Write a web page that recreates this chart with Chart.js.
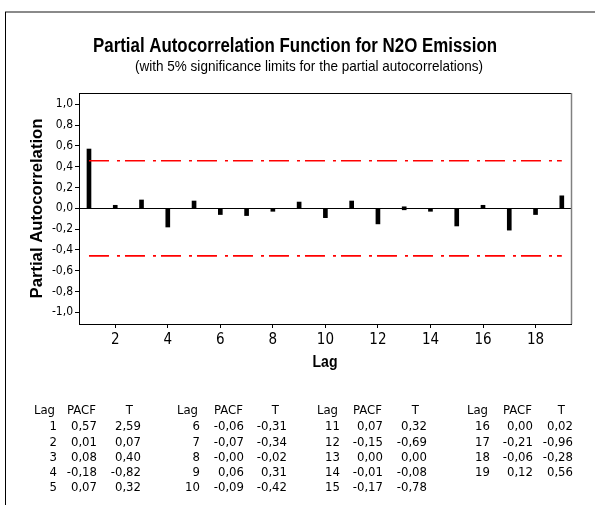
<!DOCTYPE html>
<html><head><meta charset="utf-8">
<script src="https://cdn.jsdelivr.net/npm/chart.js@4.4.1/dist/chart.umd.min.js"></script>
<style>
html,body{margin:0;padding:0;background:#fff;}
canvas{display:block;}
</style></head><body>
<canvas id="c" width="595" height="505"></canvas>
<script>
// ---- data ----
const lags   = [1,2,3,4,5,6,7,8,9,10,11,12,13,14,15,16,17,18,19];
const pacf   = [0.57,0.01,0.08,-0.18,0.07,-0.06,-0.07,-0.004,0.06,-0.09,0.07,-0.15,0.00,-0.01,-0.17,0.004,-0.21,-0.06,0.12];
const tStats = [2.59,0.07,0.40,-0.82,0.32,-0.31,-0.34,-0.02,0.31,-0.42,0.32,-0.69,0.00,-0.08,-0.78,0.02,-0.96,-0.28,0.56];
const yTicks = [-1.0,-0.8,-0.6,-0.4,-0.2,0.0,0.2,0.4,0.6,0.8,1.0];
const xTicks = [2,4,6,8,10,12,14,16,18];
const sigLimit = 0.458;
const titleText = "Partial Autocorrelation Function for N2O Emission";
const subtitleText = "(with 5% significance limits for the partial autocorrelations)";
const yTitle = "Partial Autocorrelation";
const xTitle = "Lag";
const tableHeaders = ["Lag","PACF","T"];

function hasFont(name){
  const c=document.createElement('canvas').getContext('2d');
  const s='abcdefghijklmnopqrstuvwxyz ABCDEFGHIJ 0123456789';
  let diff=false;
  for(const base of ['monospace','serif']){
    c.font='40px '+base; const w1=c.measureText(s).width;
    c.font="40px '"+name+"', "+base; const w2=c.measureText(s).width;
    if(Math.abs(w1-w2)>0.5) diff=true;
  }
  return diff;
}
const COND = hasFont('DejaVu Sans Condensed') ? "'DejaVu Sans Condensed'" : "'Liberation Sans'";
const TABLEF = hasFont('DejaVu Sans Condensed') ? "'DejaVu Sans Condensed'" : "'DejaVu Sans'";
const fmt = (v,d)=> v.toFixed(d).replace('.',',');

// draw text squeezed horizontally to a target width (mimics the narrow original face)
function fitText(ctx, text, cx, cy, font, targetW){
  ctx.save();
  ctx.font=font;
  const w=ctx.measureText(text).width;
  const k=targetW/w;
  ctx.translate(cx,cy); ctx.scale(k,1);
  ctx.textAlign='center'; ctx.textBaseline='middle';
  ctx.fillText(text,0,0);
  ctx.restore();
}

const decor = {
  id:'decor',
  afterDraw(chart){
    const ctx=chart.ctx, a=chart.chartArea;
    ctx.save();
    // outer frame
    ctx.strokeStyle='#8a8a8a'; ctx.lineWidth=2;
    ctx.beginPath(); ctx.moveTo(5,12); ctx.lineTo(595,12); ctx.stroke();
    ctx.strokeStyle='#000'; ctx.lineWidth=1;
    ctx.beginPath(); ctx.moveTo(5.5,12); ctx.lineTo(5.5,505); ctx.stroke();
    // plot frame top & right
    ctx.beginPath(); ctx.moveTo(a.left,a.top+0.5); ctx.lineTo(a.right,a.top+0.5); ctx.stroke();
    ctx.strokeStyle='#808080'; ctx.lineWidth=1.5;
    ctx.beginPath(); ctx.moveTo(a.right+0.5,a.top); ctx.lineTo(a.right+0.5,a.bottom); ctx.stroke();
    // titles
    ctx.fillStyle='#000';
    fitText(ctx, titleText, 295, 46, "bold 20px 'Liberation Sans'", 404);
    fitText(ctx, subtitleText, 309, 67, "15px 'Liberation Sans'", 348);
    fitText(ctx, xTitle, (a.left+a.right)/2, 363, "bold 16px 'Liberation Sans'", 25);
    ctx.save(); ctx.translate(38, (a.top+a.bottom)/2); ctx.rotate(-Math.PI/2);
    ctx.font="bold 16px 'Liberation Sans'"; ctx.textAlign='center'; ctx.textBaseline='middle';
    const yw=ctx.measureText(yTitle).width; ctx.scale(180/yw,1);
    ctx.fillText(yTitle,0,0); ctx.restore();
    // table
    ctx.font='13px '+TABLEF; ctx.textBaseline='middle'; ctx.textAlign='right';
    const blocks=[{s:0,e:5,c:[57,97,141]},{s:5,e:10,c:[200,244,287]},{s:10,e:15,c:[340,383,427]},{s:15,e:19,c:[490,533,573]}];
    const headY=411, row0=427, rowH=15.2;
    blocks.forEach(b=>{
      ctx.fillText(tableHeaders[0], b.c[0]-2, headY);
      ctx.fillText(tableHeaders[1], b.c[1]-1, headY);
      ctx.fillText(tableHeaders[2], b.c[2]-8, headY);
      for(let i=b.s;i<b.e;i++){
        const y=row0+(i-b.s)*rowH;
        ctx.fillText(String(lags[i]), b.c[0], y);
        ctx.fillText(fmt(pacf[i],2), b.c[1], y);
        ctx.fillText(fmt(tStats[i],2), b.c[2], y);
      }
    });
    ctx.restore();
  }
};

new Chart(document.getElementById('c'), {
  type:'bar',
  data:{datasets:[
    {type:'bar', data:lags.map((l,i)=>({x:l,y:pacf[i]})), backgroundColor:'#000', borderWidth:0, barThickness:4, minBarLength:3, order:2},
    {type:'line', data:[{x:lags[0],y:sigLimit},{x:lags[lags.length-1],y:sigLimit}], borderColor:'#ff0000', borderWidth:1.6, borderDash:[20,8,3,5], pointRadius:0, fill:false, order:1},
    {type:'line', data:[{x:lags[0],y:-sigLimit},{x:lags[lags.length-1],y:-sigLimit}], borderColor:'#ff0000', borderWidth:1.6, borderDash:[20,8,3,5], pointRadius:0, fill:false, order:1}
  ]},
  options:{
    responsive:false, animation:false, devicePixelRatio:1,
    layout:{padding:{left:0,top:93,right:24,bottom:151}},
    plugins:{legend:{display:false}, tooltip:{enabled:false}, title:{display:false}},
    scales:{
      x:{type:'linear', min:0.62, max:19.35, offset:false,
        afterBuildTicks:s=>{s.ticks=xTicks.map(v=>({value:v}));},
        afterFit:s=>{s.height=30;},
        grid:{offset:false, drawOnChartArea:false, drawTicks:true, tickLength:4, color:'#000', tickColor:'#000'},
        border:{display:true, color:'#000', width:1},
        ticks:{color:'#000', font:{family:COND, size:15}, padding:3, maxRotation:0, minRotation:0, autoSkip:false, callback:v=>String(v)}},
      y:{min:-1.113, max:1.109,
        afterBuildTicks:s=>{s.ticks=yTicks.map(v=>({value:v}));},
        afterFit:s=>{s.width=79;},
        grid:{color:c=>(c.tick && Math.abs(c.tick.value)<1e-9)?'#000':'rgba(0,0,0,0)', tickColor:'#000', tickLength:4, drawTicks:true, drawOnChartArea:true},
        border:{display:true, color:'#000', width:1},
        ticks:{color:'#000', font:{family:COND, size:12}, padding:2, callback:v=>fmt(v,1)}}
    }
  },
  plugins:[decor]
});
</script>
</body></html>
